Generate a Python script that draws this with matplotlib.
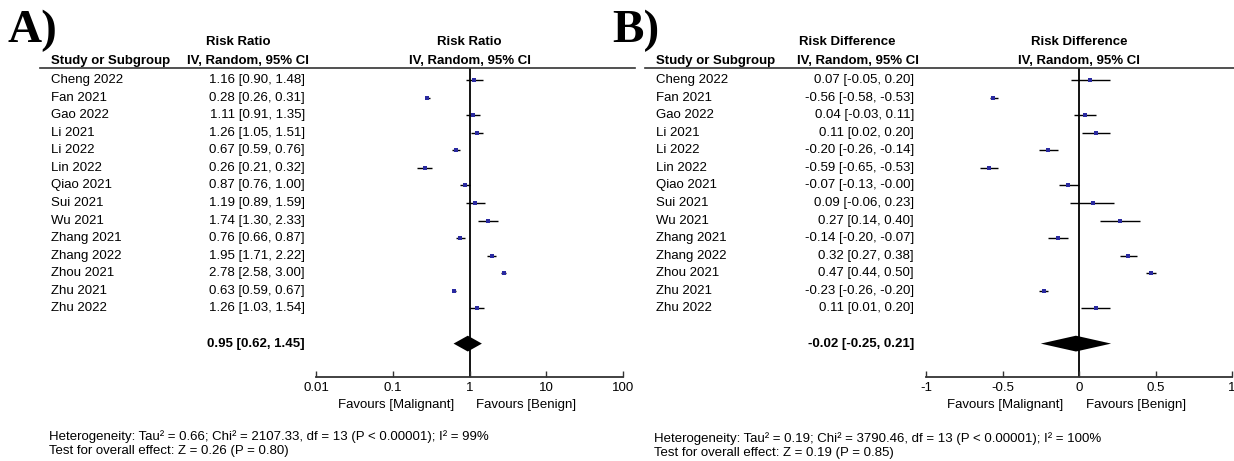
import matplotlib
matplotlib.use("Agg")
import matplotlib.pyplot as plt
import matplotlib.transforms as mtransforms
from matplotlib.lines import Line2D

plt.rcParams['font.family'] = ['Liberation Sans', 'DejaVu Sans']

W, H = 1234, 461
FS = 9.5

# ------------------------------------------------------------------
# Data
# ------------------------------------------------------------------
studies = ["Cheng 2022", "Fan 2021", "Gao 2022", "Li 2021", "Li 2022", "Lin 2022",
           "Qiao 2021", "Sui 2021", "Wu 2021", "Zhang 2021", "Zhang 2022",
           "Zhou 2021", "Zhu 2021", "Zhu 2022"]

rr = [1.16, 0.28, 1.11, 1.26, 0.67, 0.26, 0.87, 1.19, 1.74, 0.76, 1.95, 2.78, 0.63, 1.26]
rr_lo = [0.90, 0.26, 0.91, 1.05, 0.59, 0.21, 0.76, 0.89, 1.30, 0.66, 1.71, 2.58, 0.59, 1.03]
rr_hi = [1.48, 0.31, 1.35, 1.51, 0.76, 0.32, 1.00, 1.59, 2.33, 0.87, 2.22, 3.00, 0.67, 1.54]
rr_pooled = (0.95, 0.62, 1.45)
rr_ticks = [0.01, 0.1, 1, 10, 100]
rr_ticklabels = ["0.01", "0.1", "1", "10", "100"]

rd = [0.07, -0.56, 0.04, 0.11, -0.20, -0.59, -0.07, 0.09, 0.27, -0.14, 0.32, 0.47, -0.23, 0.11]
rd_lo = [-0.05, -0.58, -0.03, 0.02, -0.26, -0.65, -0.13, -0.06, 0.14, -0.20, 0.27, 0.44, -0.26, 0.01]
rd_hi = [0.20, -0.53, 0.11, 0.20, -0.14, -0.53, -0.0, 0.23, 0.40, -0.07, 0.38, 0.50, -0.20, 0.20]
rd_pooled = (-0.02, -0.25, 0.21)
rd_ticks = [-1, -0.5, 0, 0.5, 1]
rd_ticklabels = ["-1", "-0.5", "0", "0.5", "1"]

het_a = ["Heterogeneity: Tau\u00b2 = 0.66; Chi\u00b2 = 2107.33, df = 13 (P < 0.00001); I\u00b2 = 99%",
         "Test for overall effect: Z = 0.26 (P = 0.80)"]
het_b = ["Heterogeneity: Tau\u00b2 = 0.19; Chi\u00b2 = 3790.46, df = 13 (P < 0.00001); I\u00b2 = 100%",
         "Test for overall effect: Z = 0.19 (P = 0.85)"]


def fx(x):
    """Pixel x -> figure fraction."""
    return x / W


def fy(y):
    """Pixel y (from top) -> figure fraction."""
    return 1 - y / H


def fmt(v):
    return f"{v:.2f}"


def draw_panel(fig, letter, measure, est, lo, hi, pooled, null, log, ticks, ticklabels,
               xlim, x0, px_left, px_right, est_right, head_c1, head_c2, het, het_dy):
    """Draw one RevMan-style forest plot panel; x0 is the panel's left pixel offset."""
    ax = fig.add_axes([fx(px_left), fy(377), fx(px_right - px_left), (377 - 68) / H])
    if log:
        ax.set_xscale("log")
    ax.set_xlim(*xlim)
    ax.set_ylim(16.9, -0.68)

    n = len(est)
    rows = list(range(n))
    pooled_row = n + 1

    # study CIs and point estimates
    for i in rows:
        ax.plot([lo[i], hi[i]], [i, i], color="black", lw=1.0, solid_capstyle="butt")
    ax.plot(est, rows, "s", color="#2a2aa0", markersize=3.2, markeredgewidth=0)

    # pooled diamond
    p, plo, phi = pooled
    h = 0.45
    ax.fill([plo, p, phi, p], [pooled_row, pooled_row - h, pooled_row, pooled_row + h],
            color="black", lw=0)

    ax.axvline(null, color="black", lw=1.3, zorder=0)

    for side in ("top", "left", "right"):
        ax.spines[side].set_visible(False)
    ax.spines["bottom"].set_color("#333333")
    ax.spines["bottom"].set_linewidth(1.3)
    ax.set_yticks([])
    ax.set_xticks(ticks)
    ax.set_xticklabels(ticklabels)
    ax.minorticks_off()
    ax.tick_params(axis="x", direction="in", length=4, width=1.0, pad=3.5,
                   labelsize=FS, color="#333333")
    ax.patch.set_visible(False)

    # text columns: x in figure coords, y in data rows
    row_tr = mtransforms.blended_transform_factory(fig.transFigure, ax.transData)
    for i in rows:
        ax.text(fx(x0 + 51), i, studies[i], transform=row_tr, va="center", ha="left", fontsize=FS)
        ax.text(fx(est_right), i, f"{fmt(est[i])} [{fmt(lo[i])}, {fmt(hi[i])}]",
                transform=row_tr, va="center", ha="right", fontsize=FS)
    ax.text(fx(est_right), pooled_row, f"{fmt(p)} [{fmt(plo)}, {fmt(phi)}]",
            transform=row_tr, va="center", ha="right", fontsize=FS, fontweight="bold")

    # headers
    fig.text(fx(x0 + 7), fy(31), letter, fontsize=34, fontweight="bold",
             family=["Liberation Serif", "DejaVu Serif"], ha="left", va="center")
    fig.text(fx(x0 + 51), fy(61), "Study or Subgroup", fontsize=FS, fontweight="bold",
             ha="left", va="center")
    fig.text(fx(head_c1), fy(42), measure, fontsize=FS, fontweight="bold", ha="center", va="center")
    fig.text(fx(head_c2), fy(61), "IV, Random, 95% CI", fontsize=FS, fontweight="bold",
             ha="center", va="center")
    head_tr = mtransforms.blended_transform_factory(ax.transData, fig.transFigure)
    ax.text(null, fy(42), measure, transform=head_tr, fontsize=FS, fontweight="bold",
            ha="center", va="center")
    ax.text(null, fy(61), "IV, Random, 95% CI", transform=head_tr, fontsize=FS,
            fontweight="bold", ha="center", va="center")

    # favours labels around the null line
    ax.annotate("Favours [Malignant]", xy=(null, fy(405)), xycoords=head_tr,
                xytext=(-11, 0), textcoords="offset points", fontsize=FS, ha="right", va="center")
    ax.annotate("Favours [Benign]", xy=(null, fy(405)), xycoords=head_tr,
                xytext=(5, 0), textcoords="offset points", fontsize=FS, ha="left", va="center")

    # heterogeneity footnote
    fig.text(fx(x0 + 49), fy(437 + het_dy), het[0], fontsize=FS, ha="left", va="center")
    fig.text(fx(x0 + 49), fy(451 + het_dy), het[1], fontsize=FS, ha="left", va="center")
    return ax


fig = plt.figure(figsize=(W / 100, H / 100), dpi=100)
fig.patch.set_facecolor("white")

# header rules
fig.add_artist(Line2D([fx(40), fx(635)], [fy(68), fy(68)], color="#333333", lw=1.2))
fig.add_artist(Line2D([fx(645), fx(1234)], [fy(68), fy(68)], color="#333333", lw=1.2))

draw_panel(fig, "A)", "Risk Ratio", rr, rr_lo, rr_hi, rr_pooled, 1, True,
           rr_ticks, rr_ticklabels, (0.01, 100), 0, 316, 623, 305, 238, 248, het_a, 0)
draw_panel(fig, "B)", "Risk Difference", rd, rd_lo, rd_hi, rd_pooled, 0, False,
           rd_ticks, rd_ticklabels, (-1, 1), 605, 926, 1232, 914, 847, 858, het_b, 2)

fig.savefig("out.png", dpi=100)
